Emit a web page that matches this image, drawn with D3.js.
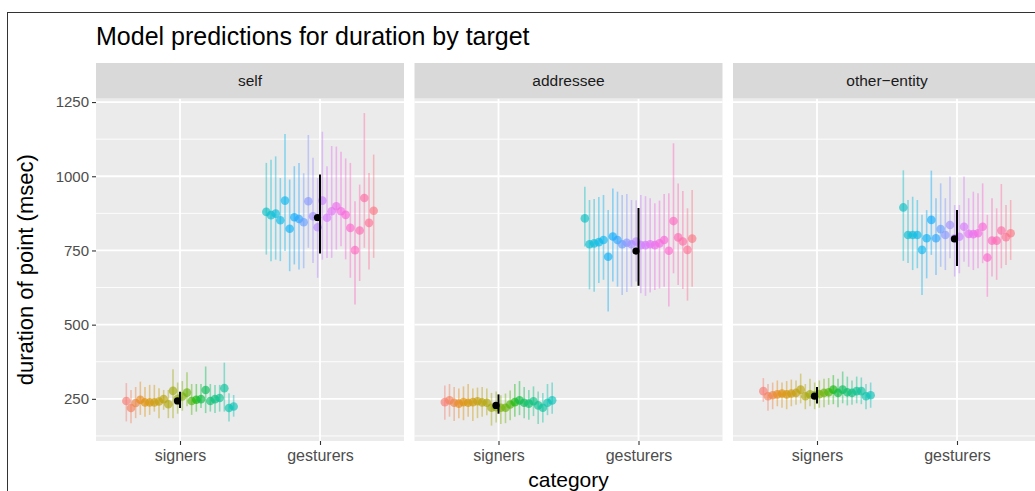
<!DOCTYPE html>
<html lang="en">
<head>
<meta charset="UTF-8">
<title>Model predictions for duration by target</title>
<script src="https://d3js.org/d3.v7.min.js"></script>
<style>
  body { margin: 0; background: #fff; }
  text { font-family: "Liberation Sans", Arial, sans-serif; }
</style>
</head>
<body>
<div id="chart"></div>
<script>
"use strict";

// facets, x categories, axis ticks
const targets = ['self', 'addressee', 'other\u2212entity'];
const categories = ['signers', 'gesturers'];
const yTicks = [250, 500, 750, 1000, 1250];
const yMinorTicks = [125, 375, 625, 875, 1125];

// one row per participant: [estimate, lower, upper]
const selfSigners = [[243,174,303],[219,168,280],[236,185,290],[247,196,308],[238,190,290],[238,196,297],
    [238,207,297],[241,185,286],[249,213,280],[232,185,280],[277,185,350],[250,200,305],[258,210,310],
    [271,225,340],[243,196,300],[247,207,300],[249,219,300],[280,202,359],[243,207,300],[249,202,297],
    [253,207,297],[286,207,372],[219,174,269],[224,190,263]];
const selfGesturers = [[880,736,1045],[869,714,1056],[874,719,1067],[852,714,994],[918,748,1142],
    [823,680,989],[862,703,1034],[856,686,1045],[845,690,1010],[916,759,1139],[865,708,1062],[828,658,994],
    [918,719,1150],[860,725,1034],[882,725,1102],[899,753,1100],[882,764,1083],[870,720,1060],[826,658,1045],
    [751,568,916],[817,647,972],[927,759,1213],[843,686,1011],[884,725,1073]];
const addresseeSigners = [[239,180,295],[245,190,300],[237,175,290],[234,185,285],[239,178,292],[237,190,300],
    [239,175,285],[242,185,288],[238,190,290],[237,195,285],[220,160,270],[222,170,275],[220,165,262],
    [220,168,268],[231,178,278],[239,190,300],[245,195,310],[237,185,290],[234,180,280],[242,192,292],
    [228,165,275],[220,170,270],[237,195,300],[245,200,305]];
const addresseeGesturers = [[858,763,965],[771,619,920],[774,611,923],[778,640,930],[785,651,937],
    [729,544,886],[797,645,959],[785,628,948],[771,600,937],[776,610,940],[771,628,920],[780,645,919],
    [768,606,937],[768,597,933],[771,608,926],[768,617,909],[774,622,918],[785,628,940],[749,561,943],
    [849,673,1111],[794,634,976],[780,620,950],[752,581,892],[790,628,954]];
const otherSigners = [[276,240,320],[259,210,300],[262,215,305],[265,225,312],[268,220,305],[265,215,310],
    [268,225,315],[270,230,312],[281,235,335],[259,215,300],[265,225,318],[262,215,305],[266,220,312],
    [270,222,318],[272,230,320],[281,232,330],[270,222,318],[281,235,342],[272,228,325],[270,230,312],
    [276,235,325],[276,232,322],[259,215,300],[262,220,305]];
const otherGesturers = [[895,715,1020],[802,708,920],[802,684,931],[802,690,920],[752,600,870],
    [791,656,886],[853,735,1019],[791,667,926],[822,695,976],[802,684,926],[836,724,999],[791,662,903],
    [796,673,903],[830,712,999],[806,695,926],[805,684,948],[808,690,943],[830,707,976],[726,594,870],
    [783,662,926],[783,651,892],[817,690,974],[795,701,903],[808,718,920]];

// group estimates (black), by target then category
const meanEstimate = [[243, 861], [228, 748], [259, 789]];
const meanLower = [[219, 740], [200, 631], [234, 698]];
const meanUpper = [[274, 1006], [265, 893], [290, 886]];

const panelData = [
    [selfSigners, selfGesturers],
    [addresseeSigners, addresseeGesturers],
    [otherSigners, otherGesturers]
];

function translate(x, y){
    return 'translate(' + x + ', ' + y + ')';
}

// ggplot-style hue: polar LUV, c = 100, l = 65
function hueColour(h){
    let L = 65, C = 100;
    let hr = h * Math.PI / 180;
    let U = C * Math.cos(hr), V = C * Math.sin(hr);
    let Xn = 95.047, Yn = 100, Zn = 108.883;
    let Y = Yn * Math.pow((L + 16) / 116, 3);
    let un = 4 * Xn / (Xn + 15 * Yn + 3 * Zn);
    let vn = 9 * Yn / (Xn + 15 * Yn + 3 * Zn);
    let u = U / (13 * L) + un;
    let v = V / (13 * L) + vn;
    let X = 9 * Y * u / (4 * v);
    let Z = Y * (12 - 3 * u - 20 * v) / (4 * v);
    let x = X / 100, y = Y / 100, z = Z / 100;
    let rgb = [
        3.2404542 * x - 1.5371385 * y - 0.4985314 * z,
        -0.9692660 * x + 1.8760108 * y + 0.0415560 * z,
        0.0556434 * x - 0.2040259 * y + 1.0572252 * z
    ].map(c => {
        c = c <= 0.0031308 ? 12.92 * c : 1.055 * Math.pow(c, 1 / 2.4) - 0.055;
        return Math.round(Math.max(0, Math.min(1, c)) * 255);
    });
    return d3.rgb(rgb[0], rgb[1], rgb[2]).formatHex();
}

let svgWidth = 1035, svgHeight = 491;
let panelWidth = 308, panelStep = 318.5, panelLeft = 96;
let panelTop = 98.5, panelBottom = 441;
let stripTop = 63;
let dodgeWidth = 0.8;
let fontStack = '"Liberation Sans", Arial, sans-serif';

let nParticipants = d3.sum(panelData[0], d => d.length);
let colour = i => hueColour(15 + 360 * i / nParticipants);

let svg = d3.select('#chart')
    .append('svg')
    .attr('width', svgWidth)
    .attr('height', svgHeight);

// outer frame
svg.append('rect')
    .attr('x', 7.5).attr('y', 12.5)
    .attr('width', 1200).attr('height', 800)
    .attr('fill', 'none')
    .attr('stroke', '#333')
    .attr('stroke-width', 1);

svg.append('text')
    .attr('x', 96).attr('y', 45)
    .style('font-size', '25px')
    .attr('fill', '#000')
    .text('Model predictions for duration by target');

let y = d3.scaleLinear()
    .domain([108, 1262])
    .range([panelBottom, panelTop]);

targets.forEach((target, p) => {
    let g = svg.append('g')
        .attr('transform', translate(panelLeft + p * panelStep, 0));

    let x = d3.scaleLinear()
        .domain([0.4, 2.6])
        .range([0, panelWidth]);

    g.append('rect')
        .attr('x', 0).attr('y', panelTop)
        .attr('width', panelWidth).attr('height', panelBottom - panelTop)
        .attr('fill', '#EBEBEB');

    g.selectAll('.minor')
        .data(yMinorTicks)
        .enter()
        .append('line')
        .attr('x1', 0).attr('x2', panelWidth)
        .attr('y1', d => y(d)).attr('y2', d => y(d))
        .attr('stroke', '#fff')
        .attr('stroke-width', 0.9);

    g.selectAll('.major')
        .data(yTicks)
        .enter()
        .append('line')
        .attr('x1', 0).attr('x2', panelWidth)
        .attr('y1', d => y(d)).attr('y2', d => y(d))
        .attr('stroke', '#fff')
        .attr('stroke-width', 1.8);

    g.selectAll('.vmajor')
        .data([1, 2])
        .enter()
        .append('line')
        .attr('x1', d => x(d)).attr('x2', d => x(d))
        .attr('y1', panelTop).attr('y2', panelBottom)
        .attr('stroke', '#fff')
        .attr('stroke-width', 1.8);

    // strip
    g.append('rect')
        .attr('x', 0).attr('y', stripTop)
        .attr('width', panelWidth).attr('height', panelTop - stripTop)
        .attr('fill', '#D9D9D9');
    g.append('text')
        .attr('x', panelWidth / 2)
        .attr('y', (stripTop + panelTop) / 2)
        .attr('dy', '0.35em')
        .attr('text-anchor', 'middle')
        .attr('fill', '#1A1A1A')
        .style('font-size', '15.5px')
        .text(target);

    // participants
    let pts = [];
    panelData[p].forEach((rows, c) => {
        let n = rows.length;
        rows.forEach((r, k) => {
            pts.push({
                x: x(c + 1 + (k - (n - 1) / 2) * dodgeWidth / n),
                est: r[0], lo: r[1], hi: r[2],
                col: colour(c * n + k)
            });
        });
    });

    g.selectAll('.bar')
        .data(pts)
        .enter()
        .append('line')
        .attr('x1', d => d.x).attr('x2', d => d.x)
        .attr('y1', d => y(d.lo)).attr('y2', d => y(d.hi))
        .attr('stroke', d => d.col)
        .attr('stroke-opacity', 0.42)
        .attr('stroke-width', 1.6);

    g.selectAll('.pt')
        .data(pts)
        .enter()
        .append('circle')
        .attr('cx', d => d.x)
        .attr('cy', d => y(d.est))
        .attr('r', 4.3)
        .attr('fill', d => d.col)
        .attr('fill-opacity', 0.62);

    // group means
    g.selectAll('.mbar')
        .data(categories)
        .enter()
        .append('line')
        .attr('x1', (d, c) => x(c + 1)).attr('x2', (d, c) => x(c + 1))
        .attr('y1', (d, c) => y(meanLower[p][c]))
        .attr('y2', (d, c) => y(meanUpper[p][c]))
        .attr('stroke', '#000')
        .attr('stroke-width', 2);

    g.selectAll('.mpt')
        .data(categories)
        .enter()
        .append('circle')
        .attr('cx', (d, c) => x(c + 1 - 0.018))
        .attr('cy', (d, c) => y(meanEstimate[p][c]))
        .attr('r', 3.6)
        .attr('fill', '#000');

    // x axis
    let xAxis = d3.axisBottom(x)
        .tickValues([1, 2])
        .tickFormat((d, i) => categories[i])
        .tickSize(4)
        .tickPadding(5);
    let xa = g.append('g')
        .attr('transform', translate(0, panelBottom))
        .call(xAxis);
    xa.select('.domain').remove();
    xa.selectAll('line').attr('stroke', '#333').attr('stroke-width', 1.1);
    xa.selectAll('text')
        .attr('fill', '#4D4D4D')
        .style('font-size', '16px')
        .style('font-family', fontStack);

    if (p === 0) {
        let yAxis = d3.axisLeft(y)
            .tickValues(yTicks)
            .tickFormat(d3.format('d'))
            .tickSize(4)
            .tickPadding(3);
        let ya = g.append('g').call(yAxis);
        ya.select('.domain').remove();
        ya.selectAll('line').attr('stroke', '#333').attr('stroke-width', 1.1);
        ya.selectAll('text')
            .attr('fill', '#4D4D4D')
            .style('font-size', '15px')
            .style('font-family', fontStack);
    }
});

// axis titles
svg.append('text')
    .attr('x', panelLeft + (2 * panelStep + panelWidth) / 2)
    .attr('y', 487)
    .attr('text-anchor', 'middle')
    .style('font-size', '21px')
    .attr('fill', '#000')
    .text('category');

svg.append('text')
    .attr('transform', translate(33, (panelTop + panelBottom) / 2) + ' rotate(-90)')
    .attr('text-anchor', 'middle')
    .style('font-size', '22px')
    .attr('fill', '#000')
    .text('duration of point (msec)');
</script>
</body>
</html>
